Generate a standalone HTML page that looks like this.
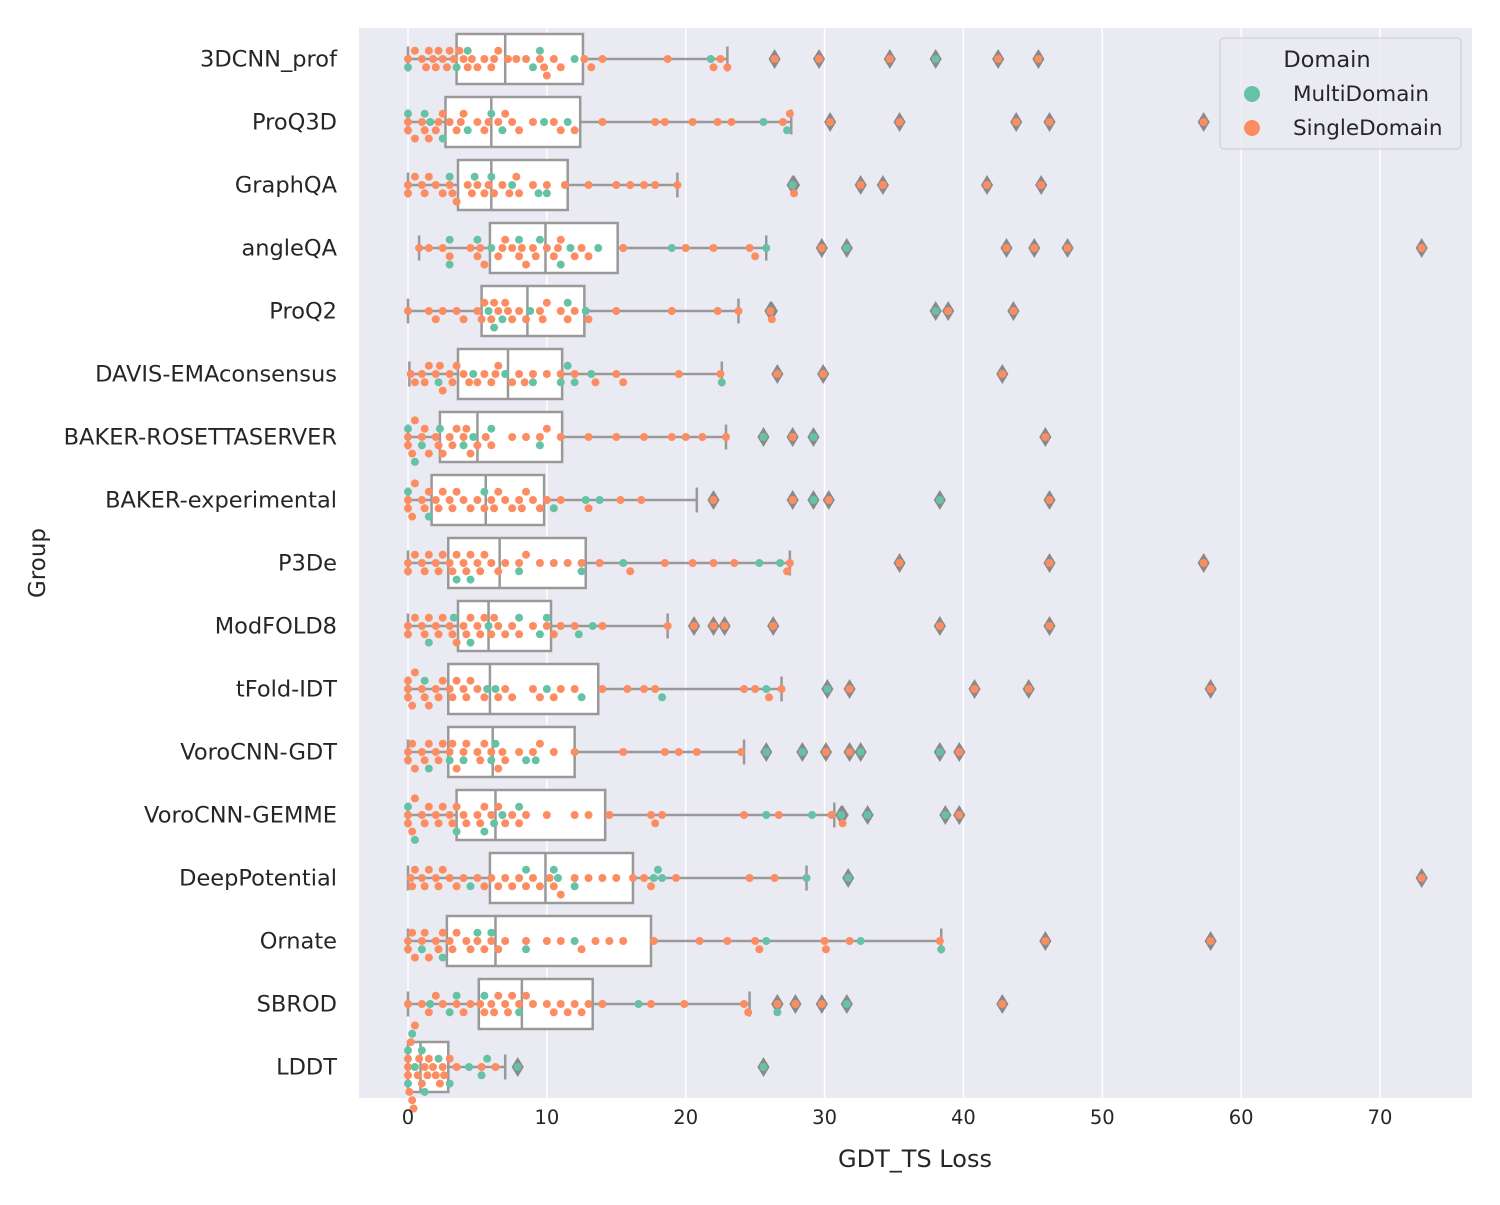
<!DOCTYPE html>
<html><head><meta charset="utf-8"><style>
html,body{margin:0;padding:0;background:#fff;}
svg text{font-family:"DejaVu Sans","Liberation Sans",sans-serif;fill:#262626;}
</style></head><body>
<svg id="chart" width="1500" height="1200" xmlns="http://www.w3.org/2000/svg">
<rect x="359" y="28" width="1113" height="1070" fill="#eaeaf2"/>
<g id="grid"></g><g id="marks"></g><g id="axes"></g>
<g>
<rect x="1220" y="38" width="241" height="111" rx="4" fill="#eaeaf2" fill-opacity="0.8" stroke="#cccccc"/>
<text x="1327" y="67" font-size="22.5" text-anchor="middle">Domain</text>
<circle cx="1252" cy="94" r="8" fill="#66c2a5"/>
<text x="1293" y="101" font-size="21.5">MultiDomain</text>
<circle cx="1252" cy="128" r="8" fill="#fc8d62"/>
<text x="1293" y="135" font-size="21.5">SingleDomain</text>
</g>
<text x="915" y="1167" font-size="24" text-anchor="middle">GDT_TS Loss</text>
<text x="0" y="0" font-size="23" text-anchor="middle" transform="translate(45,563) rotate(-90)">Group</text>
</svg>
<script>
const groups=["3DCNN_prof","ProQ3D","GraphQA","angleQA","ProQ2","DAVIS-EMAconsensus","BAKER-ROSETTASERVER","BAKER-experimental","P3De","ModFOLD8","tFold-IDT","VoroCNN-GDT","VoroCNN-GEMME","DeepPotential","Ornate","SBROD","LDDT"];
const xTicks=[0,10,20,30,40,50,60,70];
const q1=[3.5,2.7,3.6,5.9,5.3,3.6,2.3,1.7,2.9,3.6,2.9,2.9,3.5,5.9,2.8,5.1,0];
const med=[7.0,6.0,6.0,9.9,8.6,7.2,5.0,5.6,6.6,5.8,5.9,6.1,6.3,9.9,6.3,8.2,0.9];
const q3=[12.6,12.4,11.5,15.1,12.7,11.1,11.1,9.8,12.8,10.3,13.7,12.0,14.2,16.2,17.5,13.3,2.9];
const whLo=[0,0,0,0.8,0,0.1,0,0,0,0,0,0,0,0,0,0,0];
const whHi=[23.0,27.6,19.4,25.8,23.8,22.6,22.9,20.8,27.5,18.7,26.9,24.2,30.7,28.7,38.4,24.6,7.0];
const single=[
[0,0.5,1,1.3,1.8,2,2.2,2.5,3,3.3,3.7,4,4.3,5,5.5,6,6.5,7.8,8.5,9.5,10,10.5,11,12.7,13.2,14,18.7,22,22.5,23,26.4,29.6,34.7,42.5,45.4,1.5,2.8,4.6,6.2,7.2,9.8],
[0,0,0.5,1,1.5,2,2.5,3,3.5,4,5,5.5,6.5,7,8,9,10.5,11,12,14,17.8,18.5,20.5,22.3,23.3,27,27.5,30.4,35.4,43.8,46.2,57.3,1.2,2.2,3.8,5.8,7.5],
[0,0,0.5,1,1.5,2,2.5,3,3.5,4.3,5,5.5,6.2,6.8,7.3,8,9,10,11.3,13,15,16,17,17.8,19.4,27.8,32.6,34.2,41.7,45.6,1.2,3.2,4.6,5.8,7.8],
[0.8,1.5,2.5,3,4.5,5,5.5,6.5,7,7.5,8,8.5,9,10,10.5,11,12,13,15.5,20,22,24.6,25,29.8,43.1,45.1,47.5,73,5.2,6.8,8.2,9.2,10.8,12.5],
[0,1.5,2,2.5,3.5,4,5,5.5,6,6.5,7,7.5,8,9.5,10,11,12,13,15,19,22.3,23.8,26.1,26.2,38.9,43.6,5.3,6.2,7.2,8.5,9.7,11.5],
[0.2,0.5,1,1.5,2,2.5,3,3.5,4,5,5.5,6,6.5,7.5,8,9,10,11,12,13.5,15,15.5,19.5,22.5,26.6,29.9,42.8,1.2,2.3,3.2,4.4,6.3,8.4],
[0,0,0.5,1,1.5,2,2.5,3,3.5,4,4.5,5,6,7.5,8.5,9.5,10,11,13,15,17,19,20,21.2,22.9,27.7,45.9,0.3,1.2,2.2,3.2,4.2,5.6],
[0,0,0.5,1,1.5,2,2.5,3,3.5,4,5,5.5,6,6.5,7,7.5,8,8.5,9,9.5,10,11,13,15.3,16.8,22,27.7,30.3,46.2,0.3,1.2,2.2,3.2,4.5,6.2,8.2],
[0,0,0.5,1,1.5,2,2.5,3,3.5,4,4.5,5,5.5,6,6.5,7,8,8.5,9.5,10.5,11.5,12.5,13.8,16,18.5,20.5,22,23.5,27.3,27.5,35.4,46.2,57.3,1.2,2.2,3.2,4.2,5.2],
[0,0,0.5,1,1.5,2,2.5,3,3.5,4,4.5,5,5.5,6,6.5,7,7.5,8,9,10,10.5,11,12,14,18.7,20.6,22,22.8,26.3,38.3,46.2,1.2,2.2,3.2,4.2,5.2,6.2],
[0,0,0,0.5,1,1.5,2,2.5,3,3.5,4,4.5,5,5.5,6.5,7,7.5,9,9.5,10.5,11,12,14,15.8,17,17.8,24.2,25,26,26.9,31.8,40.8,44.7,57.8,0.3,1.2,2.2,3.2,4.2],
[0,0,0.5,1,1.5,2,2.5,3,3.5,4,5,5.5,6,6.5,7,8,9,9.5,10.5,12,15.5,18.5,19.5,20.8,24,30.1,31.8,39.7,0.3,1.2,2.2,3.2,4.2,5.2,6.8],
[0,0,0.5,1,1.5,2,2.5,3,3.5,4,5,5.5,6,6.5,7,8,8.5,10,12,13,14.5,17.5,17.8,18.3,24.2,26.7,30.5,31.3,39.7,0.3,1.2,2.2,3.2,4.2,5.2,7.5],
[0.2,0.5,1,1.5,2,2.5,3,3.5,4,5,5.5,6,7,7.5,8,9,9.5,10.5,11,12,13,14,15,16.2,17,17.5,19.3,24.6,26.4,73,0.3,1.2,2.2,6.5,8.5,10.2],
[0,0,0.5,1,1.5,2,2.5,3,3.5,4.5,5,5.5,6,7,8.5,10,11,12.5,13.5,14.5,15.5,17.7,21,23,25.3,25,30,30.1,31.8,38.3,45.9,57.8,0.3,1.2,2.2,3.2,4.2,6.5],
[0,1,1.5,2,2.5,3.5,4,4.5,5.5,6,6.5,7,7.5,8,9,10,11,11.5,12,13,14,17.5,19.9,24.2,24.5,26.6,27.9,29.8,42.8,5.2,6.2,7.2,8.5,10.5,12.5],
[0,0,0,0.2,0.3,0.5,0.7,1,1.2,1.5,1.8,2,2.3,2.5,3,3.5,5.3,6.3,0.1,0.4,0.8,1.4,2.6]];
const multi=[
[0,3.5,4.3,9,9.5,12,21.8,38],
[0,1.2,1.6,2.5,4.3,6,6.8,9.8,11.5,25.6,27.3],
[3,4.8,6,7.5,9.4,10,27.7],
[3,3,5,6,8,9.5,11,11.7,13.7,19,25.8,31.6],
[5.8,6.2,6.8,8.8,11.5,12.8,38],
[2.2,4.7,7,9,11,11.5,12,13.2,22.6],
[0,0.5,1,2.3,4,4.7,6,9.5,25.6,29.2],
[0,1.5,5.5,10.5,12.8,13.8,29.2,38.3],
[3.5,4.5,8,12.5,15.5,25.3,26.8],
[1.5,3.3,4.5,5.8,8,9.5,10,12.3,13.3],
[1.2,5.7,6.3,10,12.5,18.3,25.8,30.2],
[1.5,3,4,6,6.3,8.5,9.2,25.8,28.4,32.6,38.3],
[0,0.5,3.5,5.5,6.2,6.8,8,25.8,29.1,31.2,33.1,38.7],
[4.5,8.5,10.5,10.8,12,17.7,18,18.3,28.7,31.7],
[1,2.5,5,6,8.5,12,25.8,32.6,38.4],
[1.6,3,3.5,5.5,8,16.6,26.6,31.6],
[0,0,0.3,0.5,1,1.2,2.2,3,4.4,5.3,5.7,7.9,25.6]];

const NS="http://www.w3.org/2000/svg";
const xS=v=>408+v*13.886;
const yS=i=>59+i*63;
function mk(tag,attrs,parent){const e=document.createElementNS(NS,tag);for(const k in attrs)e.setAttribute(k,attrs[k]);parent.appendChild(e);return e;}
const grid=document.getElementById('grid'),marks=document.getElementById('marks'),axes=document.getElementById('axes');
xTicks.forEach(t=>{
  const l=mk('line',{x1:xS(t),x2:xS(t),y1:28,y2:1098,stroke:'#ffffff','stroke-width':1.5},grid);
  
  
  const tx=mk('text',{x:xS(t),y:1124,'font-size':19.5,'text-anchor':'middle'},axes);
  tx.textContent=t;
  
  
});
const G='#999999',hw=25,R=4;
groups.forEach((g,i)=>{
  const y=yS(i);
  const tx=mk('text',{x:337,y:y+7.5,'font-size':22.5,'text-anchor':'end'},axes);
  tx.textContent=g;
  
  
  const wl=mk('line',{x1:xS(whLo[i]),x2:xS(q1[i]),y1:y,y2:y,stroke:G,'stroke-width':2.5},marks);
  
  
  const wh=mk('line',{x1:xS(q3[i]),x2:xS(whHi[i]),y1:y,y2:y,stroke:G,'stroke-width':2.5},marks);
  
  
  [whLo[i],whHi[i]].forEach(v=>{
    const c=mk('line',{x1:xS(v),x2:xS(v),y1:y-12.5,y2:y+12.5,stroke:G,'stroke-width':2.5},marks);
    
    
  });
  const b=mk('rect',{x:xS(q1[i]),y:y-hw,width:xS(q3[i])-xS(q1[i]),height:2*hw,fill:'#ffffff',stroke:G,'stroke-width':2.5},marks);
  
  
  const m=mk('line',{x1:xS(med[i]),x2:xS(med[i]),y1:y-hw,y2:y+hw,stroke:G,'stroke-width':2.5},marks);
  
  
  const pts=[];
  single[i].forEach(v=>pts.push({v,c:'#fc8d62'}));
  multi[i].forEach(v=>pts.push({v,c:'#66c2a5'}));
  pts.forEach(p=>{if(p.v>whHi[i]+0.01||p.v<whLo[i]-0.01){
    const x=xS(p.v);
    const d=mk('path',{d:`M${x},${y-9}L${x+5.5},${y}L${x},${y+9}L${x-5.5},${y}Z`,fill:'#8a8a8a',stroke:'#8a8a8a'},marks);
    
    
  }});
  pts.sort((a,b)=>a.v-b.v);
  const placed=[];const D=2*R+0.3;
  pts.forEach(p=>{
    const x=xS(p.v);let best=0;
    const cands=[0];for(let k=1;k<12;k++){cands.push(k*D/2,-k*D/2);}
    for(const off of cands){
      if(placed.every(q=>(q.x-x)**2+(q.off-off)**2>=D*D)){best=off;break;}
    }
    placed.push({x,off:best});
    const c=mk('circle',{cx:x,cy:y+best,r:R,fill:p.c},marks);
    
    
  });
});
</script>
</body></html>
